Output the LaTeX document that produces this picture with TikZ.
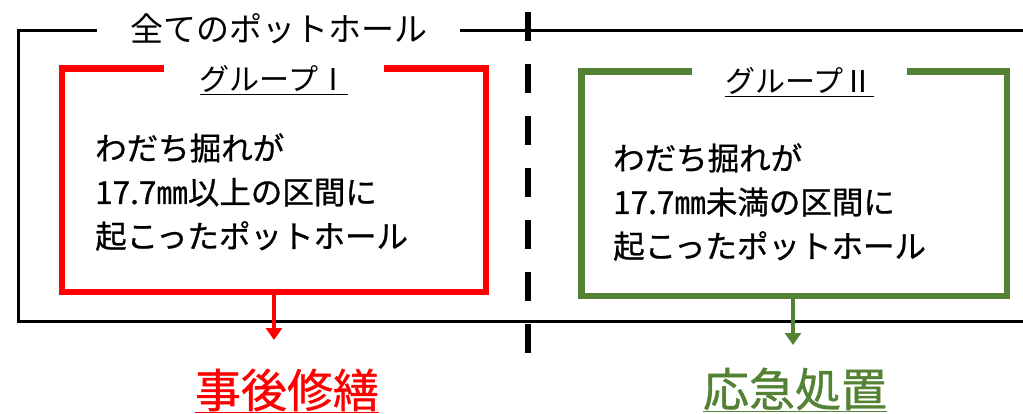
\documentclass[tikz,border=0pt]{standalone}
\usepackage{fontspec}
\setmainfont{Noto Sans CJK JP}
\newfontfamily\gothicfont{Noto Sans CJK JP}[FakeBold=0.8]
\usetikzlibrary{arrows.meta}
\definecolor{pgreen}{RGB}{84,130,53}
\definecolor{pred}{RGB}{255,0,0}
\begin{document}
\begin{tikzpicture}[x=1pt,y=-1pt,
  frame/.style={line width=3pt,black},
  grpbox/.style={draw,rectangle,line width=6.5pt,inner sep=0pt},
  lbl/.style={fill=white,inner sep=0pt,text=black},
  body/.style={anchor=west,align=left,inner sep=0pt,font=\gothicfont\fontsize{31.5}{44}\selectfont},
  res/.style={inner sep=0pt,font=\gothicfont\fontsize{46}{50}\selectfont},
  conn/.style={line width=3.5pt,-{Triangle[width=16pt,length=12pt]}},
  divider/.style={line width=6.5pt,black,dash pattern=on 29pt off 23pt}
]
\useasboundingbox (0,0) rectangle (1023,414);
\fill[white] (0,0) rectangle (1023,414);

% outer frame
\draw[frame] (1023,31) -- (18,31) -- (18,321) -- (1023,321);
\node[lbl,minimum width=363pt,minimum height=46pt,font=\fontsize{33}{36}\selectfont] (title) at (278.5,29) {全てのポットホール};

% group boxes
\node[grpbox,draw=pred,minimum width=424pt,minimum height=223.5pt] (box1) at (274,180.25) {};
\node[grpbox,draw=pgreen,minimum width=425.5pt,minimum height=224.5pt] (box2) at (794.25,183.75) {};

\node[lbl,minimum width=220pt,minimum height=40pt,font=\fontsize{30}{34}\selectfont] (g1) at (274,80) {\underline{グループⅠ}};
\node[lbl,minimum width=215pt,minimum height=40pt,font=\fontsize{30}{34}\selectfont] (g2) at (799.5,82) {\underline{グループⅡ}};

\node[body] (t1) at (95,192) {わだち掘れが\\17.7㎜以上の区間に\\起こったポットホール};
\node[body] (t2) at (613,202) {わだち掘れが\\17.7㎜未満の区間に\\起こったポットホール};

% arrows and results
\coordinate (a1) at (274,340);
\coordinate (a2) at (793,345);
\draw[conn,pred] (box1.south) -- (a1);
\draw[conn,pgreen] (box2.south -| a2) -- (a2);

\node[res,text=pred] (r1) at (287,391) {\underline{事後修繕}};
\node[res,text=pgreen] (r2) at (795,390) {\underline{応急処置}};

% divider
\coordinate (d1) at (528,12);
\coordinate (d2) at (528,353);
\draw[divider] (d1) -- (d2);
\end{tikzpicture}
\end{document}
